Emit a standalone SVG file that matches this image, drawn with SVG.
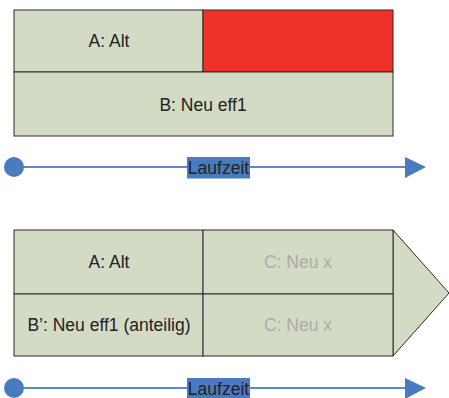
<svg xmlns="http://www.w3.org/2000/svg" width="449" height="398" viewBox="0 0 449 398">
<style>
.cell{fill:#D4DBC5;stroke:#2a2a2a;stroke-width:1}
.red{fill:#EE3129;stroke:#2a2a2a;stroke-width:1}
.t{font-family:"Liberation Sans",Arial,sans-serif;font-size:17.5px;fill:#222;text-anchor:middle}
.g{fill:#A9ADA6}
.axis{stroke:#5A88CA;stroke-width:2}
.blue{fill:#4A7BC0}
</style>
<rect width="449" height="398" fill="#fff"/>
<g id="top">
  <g id="a-alt-1"><rect class="cell" x="14" y="10" width="189" height="62"/><text class="t" x="109" y="47">A: Alt</text></g>
  <g id="red-1"><rect class="red" x="203" y="10" width="190" height="62"/></g>
  <g id="b-neu"><rect class="cell" x="14" y="72" width="379" height="64"/><text class="t" x="203" y="111">B: Neu eff1</text></g>
</g>
<g id="bottom">
  <g id="arrow-shape"><polygon class="cell" points="393,230 449,293 393,356"/></g>
  <g id="a-alt-2"><rect class="cell" x="14" y="230" width="189" height="64"/><text class="t" x="109" y="268">A: Alt</text></g>
  <g id="c-neu-1"><rect class="cell" x="203" y="230" width="190" height="64"/><text class="t g" x="298" y="268">C: Neu x</text></g>
  <g id="b-prime"><rect class="cell" x="14" y="294" width="189" height="62"/><text class="t" x="109" y="331">B’: Neu eff1 (anteilig)</text></g>
  <g id="c-neu-2"><rect class="cell" x="203" y="294" width="190" height="62"/><text class="t g" x="298" y="331">C: Neu x</text></g>
</g>
<g id="connectors">
  <g id="timeline-1">
    <line class="axis" x1="14" y1="167" x2="406" y2="167"/>
    <circle class="blue" cx="14" cy="167" r="10"/>
    <polygon class="blue" points="405,157 426,167 405,178"/>
    <rect class="blue" x="187" y="157" width="63" height="21.5"/>
    <text class="t" x="218.5" y="173.5">Laufzeit</text>
  </g>
  <g id="timeline-2">
    <line class="axis" x1="14" y1="388" x2="406" y2="388"/>
    <circle class="blue" cx="14" cy="388" r="10"/>
    <polygon class="blue" points="405,378 426,388 405,399"/>
    <rect class="blue" x="187" y="378" width="63" height="21.5"/>
    <text class="t" x="218.5" y="394.5">Laufzeit</text>
  </g>
</g>
</svg>
